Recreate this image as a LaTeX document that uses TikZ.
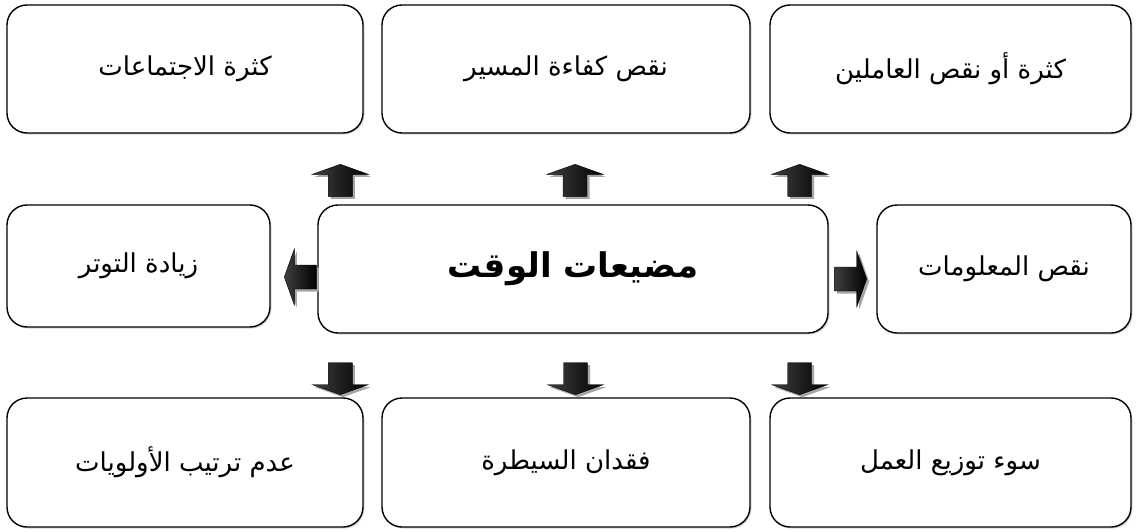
\documentclass[tikz,border=0pt]{standalone}
\usepackage{fontspec}
\newfontfamily\arabicfont[Script=Arabic]{DejaVu Sans}
\TeXXeTstate=1
\usetikzlibrary{shadows,calc}
\newcommand{\ar}[1]{\arabicfont\beginR #1\endR}

\begin{document}
\begin{tikzpicture}[x=1pt,y=-1pt,
  box/.style={draw=black, line width=1.4pt, rounded corners=20pt, fill=white,
    drop shadow={shadow xshift=1.5pt, shadow yshift=-1.5pt, opacity=0.3},
    inner sep=0pt, font=\fontsize{26}{30}\selectfont},
  % block arrow pointing in direction #1 (degrees), base at the pic origin
  pics/blkarrow/.style={code={
    \fill[black!35, xshift=2.5pt, yshift=-2.5pt, rotate=#1]
      (0pt,-12pt) -- (22pt,-12pt) -- (22pt,-28pt) -- (32pt,0pt)
      -- (22pt,28pt) -- (22pt,12pt) -- (0pt,12pt) -- cycle;
    \path[draw=black, line width=0.4pt, rotate=#1,
      left color=black!75, middle color=black!50, right color=black]
      (0pt,-12pt) -- (22pt,-12pt) -- (22pt,-28pt) -- (32pt,0pt)
      -- (22pt,28pt) -- (22pt,12pt) -- (0pt,12pt) -- cycle;
  }}
]
\useasboundingbox (0,0) rectangle (1139,532);

% top row
\node[box, minimum width=356pt, minimum height=128pt] (tl) at (185,69) {\ar{كثرة الاجتماعات}};
\node[box, minimum width=368pt, minimum height=128pt] (tm) at (566,69) {\ar{نقص كفاءة المسير}};
\node[box, minimum width=361pt, minimum height=128pt] (tr) at (950.5,69) {\ar{كثرة أو نقص العاملين}};

% middle row
\node[box, minimum width=263pt, minimum height=122pt] (ml) at (138.5,266) {\ar{زيادة التوتر}};
\node[box, minimum width=510pt, minimum height=128pt, font=\fontsize{34}{40}\selectfont\bfseries] (c) at (573,269) {\ar{مضيعات الوقت}};
\node[box, minimum width=254pt, minimum height=128pt] (mr) at (1004,269) {\ar{نقص المعلومات}};

% bottom row
\node[box, minimum width=356pt, minimum height=129pt] (bl) at (185,462.5) {\ar{عدم ترتيب الأولويات}};
\node[box, minimum width=368pt, minimum height=129pt] (bm) at (566,462.5) {\ar{فقدان السيطرة}};
\node[box, minimum width=361pt, minimum height=129pt] (br) at (950.5,462.5) {\ar{سوء توزيع العمل}};

% bases of the block arrows around the centre box
\coordinate (u1) at ($(c.north west)+(23,-8)$);
\coordinate (u2) at ($(c.north)+(2,-8)$);
\coordinate (u3) at ($(c.north east)+(-29,-8)$);
\coordinate (l1) at ($(c.west)+(-1,8)$);
\coordinate (r1) at ($(c.east)+(6,10)$);
\coordinate (d1) at ($(c.south west)+(23,29)$);
\coordinate (d2) at ($(c.south)+(2.5,29)$);
\coordinate (d3) at ($(c.south east)+(-29,29)$);

\pic at (u1) {blkarrow=90};
\pic at (u2) {blkarrow=90};
\pic at (u3) {blkarrow=90};
\pic at (l1) {blkarrow=180};
\pic at (r1) {blkarrow=0};
\pic at (d1) {blkarrow=-90};
\pic at (d2) {blkarrow=-90};
\pic at (d3) {blkarrow=-90};
\end{tikzpicture}
\end{document}
